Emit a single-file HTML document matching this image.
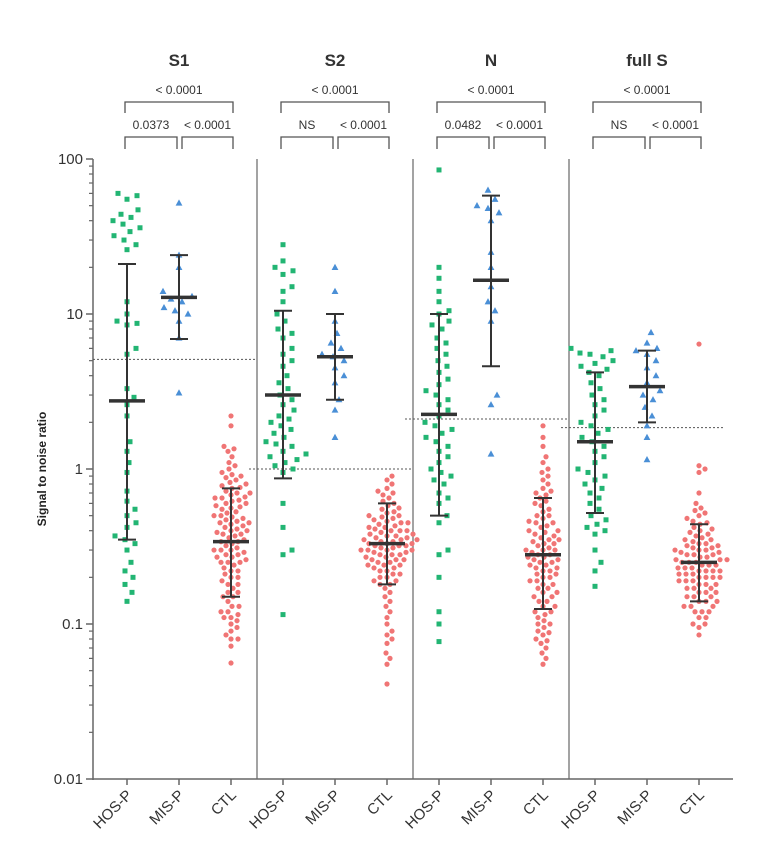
<!DOCTYPE html>
<html><head><meta charset="utf-8">
<style>
body{margin:0;background:#fff;}
svg{display:block;font-family:"Liberation Sans",Arial,sans-serif;}
</style></head>
<body>
<svg id="chart" width="771" height="862" viewBox="0 0 771 862" xmlns="http://www.w3.org/2000/svg"></svg>
<script>
// ---- data ----
const panels = ["S1","S2","N","full S"];
const categories = ["HOS-P","MIS-P","CTL"];
const thresholds = [5.1, 1.0, 2.1, 1.85];
const pTop = ["< 0.0001","< 0.0001","< 0.0001","< 0.0001"];
const pLeft = ["0.0373","NS","0.0482","NS"];
const pRight = ["< 0.0001","< 0.0001","< 0.0001","< 0.0001"];
const yTicks = [0.01,0.1,1,10,100];
const yTickLabels = ["0.01","0.1","1","10","100"];

const meanVals = [[2.75,12.8,0.34],[3.0,5.3,0.33],[2.25,16.5,0.28],[1.5,3.4,0.25]];
const errLow = [[0.35,6.9,0.15],[0.87,2.8,0.18],[0.5,4.6,0.125],[0.52,2.0,0.14]];
const errHigh = [[21,24,0.75],[10.5,10,0.6],[10,58,0.65],[4.2,5.8,0.44]];

const s1Hos = [60,58,55,47,44,42,40,38,36,34,32,30,28,26,12,10,9,8.7,8.5,6,5.5,3.3,2.9,2.6,2.2,1.5,1.3,1.1,0.95,0.72,0.62,0.55,0.5,0.45,0.42,0.37,0.35,0.33,0.3,0.25,0.22,0.2,0.18,0.16,0.14];
const s1Mis = [52,24,20,14,13,12.5,12,11,10.5,10,9,7,3.1];
const s1Ctl = [2.2,1.9,1.4,1.35,1.3,1.2,1.1,1.05,1.0,0.95,0.92,0.9,0.88,0.85,0.82,0.8,0.78,0.76,0.75,0.72,0.7,0.68,0.66,0.65,0.63,0.62,0.6,0.58,0.57,0.56,0.55,0.53,0.52,0.5,0.49,0.48,0.47,0.46,0.45,0.44,0.43,0.42,0.41,0.4,0.39,0.38,0.37,0.36,0.35,0.34,0.34,0.33,0.32,0.31,0.3,0.3,0.29,0.28,0.27,0.27,0.26,0.25,0.25,0.24,0.23,0.22,0.22,0.21,0.2,0.2,0.19,0.18,0.18,0.17,0.16,0.16,0.15,0.15,0.14,0.13,0.13,0.12,0.12,0.115,0.11,0.11,0.105,0.1,0.095,0.09,0.085,0.08,0.08,0.072,0.056,0.6,0.5,0.45,0.4,0.38,0.3,0.28,0.25,0.65,0.7];

const s2Hos = [28,22,20,19,18,15,14,12,10,9,8,7.5,7,6,5.5,5,4.6,4,3.6,3.3,3,2.8,2.6,2.4,2.2,2.1,2,1.9,1.8,1.7,1.6,1.5,1.45,1.4,1.3,1.25,1.2,1.15,1.1,1.05,1,0.95,0.6,0.42,0.3,0.28,0.115];
const s2Mis = [20,14,9,7.5,6.5,6,5.5,5.3,5,4.5,4,3.6,2.8,2.4,1.6];
const s2Ctl = [0.9,0.85,0.8,0.75,0.72,0.7,0.68,0.65,0.62,0.6,0.58,0.56,0.55,0.53,0.52,0.5,0.49,0.48,0.47,0.46,0.45,0.44,0.43,0.42,0.42,0.41,0.4,0.4,0.39,0.38,0.38,0.37,0.37,0.36,0.36,0.35,0.35,0.34,0.34,0.33,0.33,0.33,0.32,0.32,0.31,0.31,0.3,0.3,0.3,0.29,0.29,0.28,0.28,0.27,0.27,0.26,0.26,0.25,0.25,0.24,0.24,0.23,0.23,0.22,0.22,0.21,0.21,0.2,0.2,0.19,0.19,0.18,0.18,0.17,0.16,0.15,0.14,0.13,0.12,0.11,0.1,0.09,0.085,0.08,0.075,0.065,0.06,0.055,0.041,0.35,0.32,0.3,0.28,0.4,0.45,0.5,0.26,0.24];

const nHos = [85,20,17,14,12,10.5,10,9,8.5,8,7,6.5,6,5.5,5,4.6,4.2,3.8,3.5,3.2,3,2.8,2.6,2.4,2.2,2,1.9,1.8,1.7,1.6,1.5,1.4,1.3,1.2,1.1,1.0,0.95,0.9,0.85,0.8,0.7,0.65,0.6,0.5,0.45,0.3,0.28,0.2,0.12,0.1,0.077];
const nMis = [63,55,50,48,45,40,25,20,15,12,10.5,9,3,2.6,1.25];
const nCtl = [1.9,1.6,1.4,1.2,1.1,1.0,0.95,0.9,0.85,0.8,0.75,0.72,0.7,0.68,0.65,0.62,0.6,0.58,0.55,0.53,0.5,0.48,0.46,0.45,0.43,0.42,0.4,0.39,0.38,0.37,0.36,0.35,0.34,0.33,0.32,0.31,0.3,0.3,0.29,0.28,0.28,0.27,0.26,0.26,0.25,0.25,0.24,0.23,0.23,0.22,0.22,0.21,0.21,0.2,0.2,0.19,0.19,0.18,0.18,0.17,0.17,0.16,0.16,0.15,0.15,0.14,0.14,0.13,0.13,0.12,0.12,0.115,0.11,0.105,0.1,0.1,0.095,0.09,0.088,0.085,0.08,0.078,0.075,0.07,0.065,0.06,0.055,0.33,0.35,0.4,0.45,0.5,0.3,0.27,0.24];

const fHos = [6,5.8,5.6,5.5,5.3,5,4.8,4.6,4.4,4.2,4,3.6,3.3,3,2.8,2.6,2.4,2.2,2,1.9,1.8,1.7,1.6,1.5,1.4,1.3,1.2,1.1,1,0.95,0.9,0.85,0.8,0.75,0.7,0.65,0.6,0.55,0.5,0.47,0.44,0.42,0.4,0.38,0.3,0.25,0.22,0.175];
const fMis = [7.6,6.5,6,5.8,5.5,5,4.5,4,3.6,3.2,3,2.8,2.5,2.2,1.9,1.6,1.15];
const fCtl = [6.4,1.05,1.0,0.95,0.7,0.6,0.56,0.54,0.52,0.5,0.48,0.46,0.45,0.44,0.42,0.41,0.4,0.39,0.38,0.37,0.36,0.35,0.34,0.33,0.33,0.32,0.31,0.31,0.3,0.3,0.29,0.29,0.28,0.28,0.27,0.27,0.26,0.26,0.25,0.25,0.25,0.24,0.24,0.24,0.23,0.23,0.23,0.22,0.22,0.22,0.21,0.21,0.21,0.2,0.2,0.2,0.19,0.19,0.19,0.18,0.18,0.18,0.17,0.17,0.17,0.16,0.16,0.16,0.15,0.15,0.15,0.14,0.14,0.14,0.13,0.13,0.13,0.12,0.12,0.12,0.11,0.11,0.1,0.1,0.095,0.085,0.26,0.28,0.3,0.32,0.35,0.22,0.2];

const seriesData = [[s1Hos,s1Mis,s1Ctl],[s2Hos,s2Mis,s2Ctl],[nHos,nMis,nCtl],[fHos,fMis,fCtl]];

// ---- drawing ----
const NS="http://www.w3.org/2000/svg";
const svg=document.getElementById('chart');
const X0=93, X1=733, YAX=779, DEC=155;
const y=v=>YAX-(Math.log10(v)+2)*DEC;
const xCat=(p,c)=>127+(p*3+c)*52;
function mk(tag,attrs,parent){const e=document.createElementNS(NS,tag);for(const k in attrs)e.setAttribute(k,attrs[k]);(parent||svg).appendChild(e);return e;}
const colors=["#22b573","#4a8fd6","#f07575"];

// y axis
const yAxis=mk('g',{});


mk('line',{x1:X0,y1:y(100),x2:X0,y2:YAX+1,stroke:'#666','stroke-width':1.5},yAxis);
for(let d=-2;d<2;d++){for(let m=2;m<10;m++){const yy=y(m*Math.pow(10,d));mk('line',{x1:X0-4,x2:X0,y1:yy,y2:yy,stroke:'#666','stroke-width':1.2},yAxis);}}
yTicks.forEach((t,i)=>{const yy=y(t);mk('line',{x1:X0-7,x2:X0,y1:yy,y2:yy,stroke:'#666','stroke-width':1.5},yAxis);
 const tx=mk('text',{x:X0-10,y:yy+5,'text-anchor':'end','font-size':15,fill:'#333'},yAxis);tx.textContent=yTickLabels[i];
 
 });
const yt=mk('text',{x:0,y:0,transform:`translate(46,${y(1)}) rotate(-90)`,'text-anchor':'middle','font-size':12,'font-weight':'bold',fill:'#222'});
yt.textContent="Signal to noise ratio";



// x axis
const xAxis=mk('g',{});


mk('line',{x1:X0,x2:X1,y1:YAX,y2:YAX,stroke:'#666','stroke-width':1.5},xAxis);
for(let p=0;p<4;p++){
 if(p>0){const sx=(xCat(p-1,2)+xCat(p,0))/2;const sep=mk('line',{x1:sx,x2:sx,y1:y(100),y2:YAX,stroke:'#666','stroke-width':1.2});
  
  }
 for(let c=0;c<3;c++){const xx=xCat(p,c);mk('line',{x1:xx,x2:xx,y1:YAX,y2:YAX+6,stroke:'#666','stroke-width':1.5},xAxis);
  const t=mk('text',{x:0,y:0,transform:`translate(${xx+6},${YAX+17}) rotate(-45)`,'text-anchor':'end','font-size':15,fill:'#333'},xAxis);
  t.textContent=categories[c];
  
  }
}

// panels
for(let p=0;p<4;p++){
 const g=mk('g',{});
 
 
 const a=xCat(p,0),b=xCat(p,1),c=xCat(p,2);
 const title=mk('text',{x:b,y:66,'text-anchor':'middle','font-size':17,'font-weight':'bold',fill:'#333'},g);
 title.textContent=panels[p];
 
 
 const br=(x1,x2,yt,yb,label)=>{mk('path',{d:`M${x1},${yb}V${yt}H${x2}V${yb}`,fill:'none',stroke:'#555','stroke-width':1.3},g);
  const t=mk('text',{x:(x1+x2)/2,y:yt-8,'text-anchor':'middle','font-size':12,fill:'#333'},g);t.textContent=label;
  
  };
 br(a-2,c+2,102,113,pTop[p]);
 br(a-2,b-2,137,149,pLeft[p]);
 br(b+3,c+2,137,149,pRight[p]);
 const th=mk('line',{x1:xCat(p,0)-34,x2:xCat(p,2)+26,y1:y(thresholds[p]),y2:y(thresholds[p]),stroke:'#555','stroke-width':1,'stroke-dasharray':'2,2'},g);
 
 
 for(let ci=0;ci<3;ci++){
  const cx=xCat(p,ci);const vals=seriesData[p][ci].slice().sort((u,v)=>u-v);
  const placed=[];const D=ci===2?6.2:(ci===1?11:10);
  vals.forEach(v=>{const yy=y(v);let best=0;
   for(let k=0;k<80;k++){const off=(k%2?1:-1)*Math.ceil(k/2)*1.0;
    if(placed.every(q=>(q[0]-off)**2+(q[1]-yy)**2>=D*D)){best=off;break;}}
   placed.push([best,yy]);
   let m;
   if(ci===0){m=mk('rect',{x:cx+best-2.5,y:yy-2.5,width:5,height:5,fill:colors[0]},g);}
   else if(ci===1){m=mk('path',{d:`M${cx+best},${yy-3.6}l3.4,6.2h-6.8z`,fill:colors[1]},g);}
   else {m=mk('circle',{cx:cx+best,cy:yy,r:2.6,fill:colors[2]},g);}
   
   
  });
  const eb=mk('g',{},g);
  
  
  const lo=y(errLow[p][ci]),hi=y(errHigh[p][ci]),mm=y(meanVals[p][ci]);
  mk('line',{x1:cx,x2:cx,y1:hi,y2:lo,stroke:'#333','stroke-width':2},eb);
  mk('line',{x1:cx-9,x2:cx+9,y1:hi,y2:hi,stroke:'#333','stroke-width':2},eb);
  mk('line',{x1:cx-9,x2:cx+9,y1:lo,y2:lo,stroke:'#333','stroke-width':2},eb);
  const ml=mk('line',{x1:cx-18,x2:cx+18,y1:mm,y2:mm,stroke:'#333','stroke-width':3.5},g);
  
  
 }
}
</script>
</body></html>
